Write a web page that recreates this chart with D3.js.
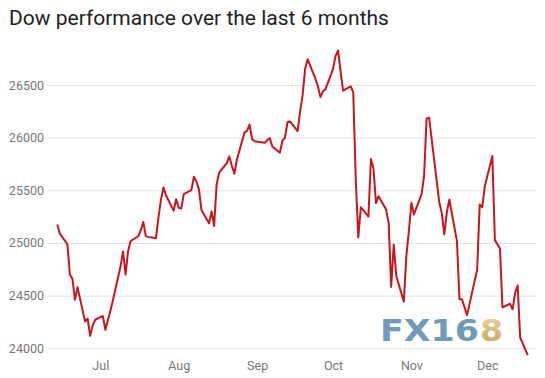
<!DOCTYPE html>
<html>
<head>
<meta charset="utf-8">
<script src="https://cdn.jsdelivr.net/npm/d3@7"></script>
<style>
  body { margin: 0; background: #fff; }
  svg { display: block; font-family: Roboto, "Open Sans", sans-serif; }
</style>
</head>
<body>
<div id="chart"></div>
<script>
/* Dow line chart, last 6 months */

const dates = [
  "2018-06-14","2018-06-15","2018-06-18","2018-06-19","2018-06-20","2018-06-21","2018-06-22",
  "2018-06-25","2018-06-26","2018-06-27","2018-06-28","2018-06-29",
  "2018-07-02","2018-07-03","2018-07-05","2018-07-06","2018-07-09","2018-07-10","2018-07-11",
  "2018-07-12","2018-07-13","2018-07-16","2018-07-17","2018-07-18","2018-07-19","2018-07-20",
  "2018-07-23","2018-07-24","2018-07-25","2018-07-26","2018-07-27","2018-07-30","2018-07-31",
  "2018-08-01","2018-08-02","2018-08-03","2018-08-06","2018-08-07","2018-08-08","2018-08-09",
  "2018-08-10","2018-08-13","2018-08-14","2018-08-15","2018-08-16","2018-08-17","2018-08-20",
  "2018-08-21","2018-08-22","2018-08-23","2018-08-24","2018-08-27","2018-08-28","2018-08-29",
  "2018-08-30","2018-08-31",
  "2018-09-04","2018-09-05","2018-09-06","2018-09-07","2018-09-10","2018-09-11","2018-09-12",
  "2018-09-13","2018-09-14","2018-09-17","2018-09-18","2018-09-19","2018-09-20","2018-09-21",
  "2018-09-24","2018-09-25","2018-09-26","2018-09-27","2018-09-28",
  "2018-10-01","2018-10-02","2018-10-03","2018-10-04","2018-10-05","2018-10-08","2018-10-09",
  "2018-10-10","2018-10-11","2018-10-12","2018-10-15","2018-10-16","2018-10-17","2018-10-18",
  "2018-10-19","2018-10-22","2018-10-23","2018-10-24","2018-10-25","2018-10-26","2018-10-29",
  "2018-10-30","2018-10-31",
  "2018-11-01","2018-11-02","2018-11-05","2018-11-06","2018-11-07","2018-11-08","2018-11-09",
  "2018-11-12","2018-11-13","2018-11-14","2018-11-15","2018-11-16","2018-11-19","2018-11-20",
  "2018-11-21","2018-11-23","2018-11-26","2018-11-27","2018-11-28","2018-11-29","2018-11-30",
  "2018-12-03","2018-12-04","2018-12-06","2018-12-07","2018-12-10","2018-12-11","2018-12-12",
  "2018-12-13","2018-12-14","2018-12-17"
];

const closes = [
  25175, 25090, 24987, 24700, 24658, 24462, 24581,
  24253, 24283, 24118, 24216, 24271,
  24307, 24175, 24357, 24456, 24777, 24920, 24700,
  24925, 25019, 25064, 25120, 25199, 25065, 25058,
  25044, 25242, 25414, 25527, 25451, 25307, 25415,
  25334, 25326, 25463, 25502, 25629, 25584, 25509,
  25313, 25188, 25300, 25162, 25559, 25669, 25759,
  25822, 25734, 25657, 25790, 26050, 26064, 26125,
  25987, 25965,
  25952, 25975, 25996, 25917, 25857, 25971, 25999,
  26146, 26155, 26062, 26247, 26406, 26657, 26744,
  26562, 26492, 26385, 26440, 26458,
  26651, 26774, 26828, 26627, 26447, 26487, 26431,
  25599, 25053, 25340, 25251, 25798, 25707, 25379,
  25444, 25317, 25191, 24583, 24985, 24688, 24443,
  24875, 25116,
  25381, 25271, 25462, 25635, 26180, 26191, 25989,
  25387, 25286, 25081, 25289, 25413, 25017, 24466,
  24465, 24315, 24640, 24749, 25366, 25339, 25538,
  25826, 25027, 24948, 24389, 24423, 24370, 24527,
  24597, 24101, 23935
];

const yTicks = [24000, 24500, 25000, 25500, 26000, 26500];
const monthTicks = ["2018-07-01", "2018-08-01", "2018-09-01", "2018-10-01", "2018-11-01", "2018-12-01"];

const width = 545,
  height = 378;

const parse = d3.timeParse("%Y-%m-%d");
const data = dates.map((d, i) => ({ date: parse(d), value: closes[i] }));

const svg = d3.select("#chart")
  .append("svg")
  .attr("width", width)
  .attr("height", height);

svg.append("text")
  .attr("x", 9)
  .attr("y", 25)
  .attr("font-size", 21)
  .attr("fill", "#222")
  .text("Dow performance over the last 6 months");

const x = d3.scaleTime()
  .domain([new Date(2018, 5, 10, 8), new Date(2018, 11, 20, 6)])
  .range([48, 536]);

const y = d3.scaleLinear()
  .domain([24000, 26500])
  .range([348.3, 85]);

// gridlines + y labels
const yAxis = svg.append("g")
  .attr("transform", "translate(48,0)")
  .call(d3.axisLeft(y).tickValues(yTicks).tickSize(-488).tickPadding(4).tickFormat(d3.format("d")));
yAxis.select(".domain").remove();
yAxis.selectAll("line").attr("stroke", "#e3e3e3");
yAxis.selectAll("text")
  .attr("fill", "#777")
  .attr("font-size", 12.5)
  .attr("font-family", "Roboto, sans-serif");

// month labels
const xAxis = svg.append("g")
  .attr("transform", `translate(0,${y(24000)})`)
  .call(d3.axisBottom(x).tickValues(monthTicks.map(parse)).tickSize(0).tickPadding(13).tickFormat(d3.timeFormat("%b")));
xAxis.select(".domain").remove();
xAxis.selectAll("text")
  .attr("fill", "#777")
  .attr("font-size", 12.5)
  .attr("font-family", "Roboto, sans-serif");

const line = d3.line()
  .x(d => x(d.date))
  .y(d => y(d.value));

svg.append("path")
  .datum(data)
  .attr("fill", "none")
  .attr("stroke", "#c8161e")
  .attr("stroke-width", 2)
  .attr("stroke-linejoin", "round")
  .attr("d", line);

// FX168 watermark
const defs = svg.append("defs");
const grad = defs.append("linearGradient")
  .attr("id", "gold")
  .attr("x1", 0).attr("y1", 0).attr("x2", 0).attr("y2", 1);
grad.append("stop").attr("offset", "0%").attr("stop-color", "#e8d39a");
grad.append("stop").attr("offset", "100%").attr("stop-color", "#c09a48");

const logo = svg.append("text")
  .attr("x", 380)
  .attr("y", 341)
  .attr("font-size", 30)
  .attr("font-weight", "bold")
  .attr("font-family", "'DejaVu Sans', sans-serif")
  .attr("opacity", 0.9);
logo.append("tspan")
  .attr("fill", "#6590b2")
  .attr("textLength", 99)
  .attr("lengthAdjust", "spacingAndGlyphs")
  .text("FX16");
logo.append("tspan")
  .attr("fill", "url(#gold)")
  .attr("x", 480)
  .attr("textLength", 23)
  .attr("lengthAdjust", "spacingAndGlyphs")
  .text("8");
</script>
</body>
</html>
